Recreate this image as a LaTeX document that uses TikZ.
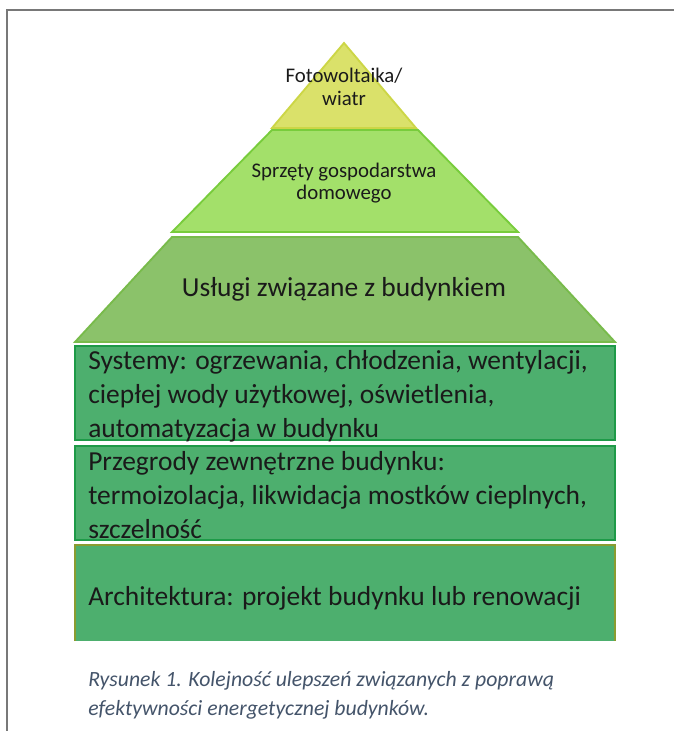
\documentclass[tikz,border=0pt]{standalone}
\usepackage{fontspec}
\setmainfont{Carlito}
\usetikzlibrary{positioning}
\definecolor{TopYellow}{RGB}{218,225,106}
\definecolor{TopEdge}{RGB}{204,214,70}
\definecolor{LightGreen}{RGB}{163,224,106}
\definecolor{LightEdge}{RGB}{120,204,60}
\definecolor{MidGreen}{RGB}{139,194,106}
\definecolor{MidEdge}{RGB}{120,187,75}
\definecolor{BoxGreen}{RGB}{77,175,110}
\definecolor{BoxEdge}{RGB}{30,154,72}
\definecolor{OliveEdge}{RGB}{138,156,48}
\definecolor{CaptionBlue}{RGB}{68,84,106}
\definecolor{FrameGray}{RGB}{120,120,120}
\definecolor{InkBlack}{RGB}{26,26,26}

\begin{document}
\begin{tikzpicture}[x=0.75pt,y=-0.75pt,
    layer/.style={line width=1.4pt},
    smalltext/.style={align=center,text=InkBlack,font=\fontsize{15.6}{17}\selectfont},
    bigtext/.style={text=InkBlack,font=\fontsize{20.6}{25.5}\selectfont,inner sep=0pt},
    captext/.style={anchor=north west,align=left,inner sep=0pt,text=CaptionBlue,
      font=\fontsize{16.3}{21.75}\selectfont\itshape}]
  \useasboundingbox (0,0) rectangle (674,731);
  \draw[FrameGray,line width=1.5pt] (7,731)--(7,10)--(674,10);
  % pyramid top
  \filldraw[layer,fill=TopYellow,draw=TopEdge] (344,43)--(416,128)--(272,128)--cycle;
  \filldraw[layer,fill=LightGreen,draw=LightEdge] (272,130)--(418,130)--(518,232)--(172,232)--cycle;
  \filldraw[layer,fill=MidGreen,draw=MidEdge] (172,237)--(518,237)--(615,342)--(75,342)--cycle;
  % boxes
  \filldraw[layer,fill=BoxGreen,draw=BoxEdge] (75,346) rectangle (615,440);
  \filldraw[layer,fill=BoxGreen,draw=BoxEdge] (75,446) rectangle (615,540);
  \fill[BoxGreen] (75,545) rectangle (615,641);
  \draw[layer,OliveEdge] (75,641)--(75,545)--(615,545)--(615,641);
  % labels
  \node[smalltext] (pv) at (344,87) {Fotowoltaika/\\wiatr};
  \node[smalltext] (agd) at (344,183) {Sprzęty gospodarstwa\\domowego};
  \node[bigtext] (uslugi) at (344,289) {Usługi związane z budynkiem};
  \node[bigtext,anchor=north west,align=left] (systemy) at (88,350)
    {Systemy: ogrzewania, chłodzenia, wentylacji,\\ciepłej wody użytkowej, oświetlenia,\\automatyzacja w budynku};
  \node[bigtext,anchor=north west,align=left] (przegrody) at (88,451)
    {Przegrody zewnętrzne budynku:\\termoizolacja, likwidacja mostków cieplnych,\\szczelność};
  \node[bigtext,anchor=west] (arch) at (88,598) {Architektura: projekt budynku lub renowacji};
  \node[captext] (podpis) at (88,671)
    {Rysunek 1. Kolejność ulepszeń związanych z poprawą\\efektywności energetycznej budynków.};
\end{tikzpicture}
\end{document}
